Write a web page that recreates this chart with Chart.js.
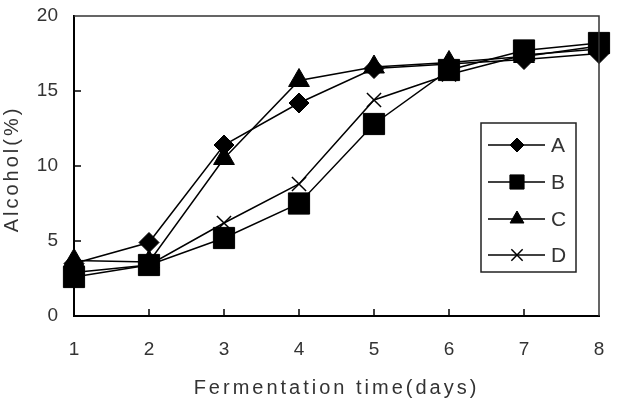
<!DOCTYPE html>
<html>
<head>
<meta charset="utf-8">
<script src="https://cdn.jsdelivr.net/npm/chart.js@4/dist/chart.umd.min.js"></script>
<style>
  html, body { margin: 0; padding: 0; background: #fff; }
  #wrap { width: 617px; height: 408px; position: relative; }
</style>
</head>
<body>
<div id="wrap"><canvas id="c" width="617" height="408"></canvas></div>
<script>
// ---- data ----
const days = ['1', '2', '3', '4', '5', '6', '7', '8'];
const seriesNames = ['A', 'B', 'C', 'D'];
const seriesA = [3.5, 4.9, 11.4, 14.2, 16.5, 16.8, 17.1, 17.5];
const seriesB = [2.6, 3.4, 5.2, 7.5, 12.8, 16.4, 17.7, 18.2];
const seriesC = [3.7, 3.6, 10.5, 15.7, 16.6, 16.9, 17.3, 18.0];
const seriesD = [2.9, 3.4, 6.2, 8.8, 14.4, 16.1, 17.4, 17.8];
const yTicks = [0, 5, 10, 15, 20];
const xTitle = 'Fermentation time(days)';
const yTitle = 'Alcohol(%)';

const FONT = "'Liberation Sans Narrow', 'Liberation Sans', Arial, sans-serif";
const TEXT = '#333';

const styles = [
  { pointStyle: 'rectRot', pointRadius: 10, legendRadius: 7 },
  { pointStyle: 'rect', pointRadius: 15, legendRadius: 10 },
  { pointStyle: 'triangle', pointRadius: 12, legendRadius: 8 },
  { pointStyle: 'crossRot', pointRadius: 10, legendRadius: 8 }
];
const values = [seriesA, seriesB, seriesC, seriesD];

const datasets = seriesNames.map((name, i) => ({
  label: name,
  data: values[i],
  borderColor: '#000',
  backgroundColor: '#000',
  borderWidth: 1.5,
  pointStyle: styles[i].pointStyle,
  pointRadius: styles[i].pointRadius,
  pointHoverRadius: styles[i].pointRadius,
  pointBackgroundColor: '#000',
  pointBorderColor: '#000',
  pointBorderWidth: styles[i].pointStyle === 'crossRot' ? 1.5 : 1,
  tension: 0,
  order: 4 - i
}));

function drawMarker(ctx, style, r, x, y) {
  ctx.save();
  ctx.fillStyle = '#000';
  ctx.strokeStyle = '#000';
  ctx.lineWidth = style === 'crossRot' ? 1.5 : 1;
  if (Chart.helpers && Chart.helpers.drawPoint) {
    Chart.helpers.drawPoint(ctx, { pointStyle: style, radius: r, rotation: 0, borderWidth: ctx.lineWidth }, x, y);
  }
  ctx.restore();
}

const framePlugin = {
  id: 'frame',
  afterLayout(chart) {
    ['x', 'y'].forEach(id => {
      const s = chart.scales[id];
      if (s && !s._lsWrapped) {
        const orig = s.drawTitle;
        s.drawTitle = function () {
          const ctx = this.ctx;
          ctx.save();
          ctx.letterSpacing = '3px';
          if (id === 'y') ctx.translate(0, 3);
          orig.apply(this, arguments);
          ctx.restore();
        };
        s._lsWrapped = true;
      }
    });
  },
  afterDatasetsDraw(chart) {
    const { ctx, chartArea: a, scales: { x, y } } = chart;
    ctx.save();
    ctx.strokeStyle = '#333';
    ctx.lineWidth = 1.5;
    ctx.beginPath();
    ctx.moveTo(a.left, a.top);
    ctx.lineTo(a.right, a.top);
    ctx.lineTo(a.right, a.bottom);
    ctx.stroke();
    ctx.strokeStyle = '#000';
    ctx.lineWidth = 1.5;
    ctx.beginPath();
    for (let i = 1; i < x.ticks.length - 1; i++) {
      const px = Math.round(x.getPixelForTick(i));
      ctx.moveTo(px, a.bottom);
      ctx.lineTo(px, a.bottom - 7);
    }
    for (let i = 1; i < y.ticks.length - 1; i++) {
      const py = Math.round(y.getPixelForTick(i));
      ctx.moveTo(a.left, py);
      ctx.lineTo(a.left + 7, py);
    }
    ctx.stroke();
    ctx.restore();
  },
  afterDraw(chart) {
    const { ctx, chartArea: a } = chart;
    const bx = a.right - 118, by = a.top + 107, bw = 95, bh = 149;
    ctx.save();
    ctx.fillStyle = '#fff';
    ctx.fillRect(bx, by, bw, bh);
    ctx.strokeStyle = '#222';
    ctx.lineWidth = 1.5;
    ctx.strokeRect(bx, by, bw, bh);
    const rows = [by + 22, by + 59, by + 96, by + 132];
    ctx.font = '21px ' + FONT;
    ctx.textBaseline = 'middle';
    ctx.textAlign = 'left';
    seriesNames.forEach((name, i) => {
      const ly = rows[i];
      ctx.strokeStyle = '#000';
      ctx.lineWidth = 1.5;
      ctx.beginPath();
      ctx.moveTo(bx + 7, ly);
      ctx.lineTo(bx + 64, ly);
      ctx.stroke();
      drawMarker(ctx, styles[i].pointStyle, styles[i].legendRadius, bx + 36, ly);
      ctx.fillStyle = TEXT;
      ctx.fillText(name, bx + 70, ly + 1);
    });
    ctx.restore();
  }
};

new Chart(document.getElementById('c'), {
  type: 'line',
  data: { labels: days, datasets },
  plugins: [framePlugin],
  options: {
    responsive: false,
    animation: false,
    events: [],
    layout: { padding: { top: 13, right: 18, left: 0, bottom: 0 } },
    plugins: { legend: { display: false }, tooltip: { enabled: false } },
    scales: {
      x: {
        type: 'category',
        offset: false,
        grid: { display: false, drawTicks: false },
        border: { display: true, color: '#000', width: 2 },
        ticks: { color: TEXT, font: { family: FONT, size: 19 }, padding: 22, maxRotation: 0 },
        title: { display: true, text: xTitle, color: TEXT, font: { family: FONT, size: 20 }, padding: { top: 0, bottom: 8 } },
        afterFit(s) { s.height = 92; s.paddingLeft = 0; s.paddingRight = 0; }
      },
      y: {
        min: 0, max: 20,
        afterBuildTicks(s) { s.ticks = yTicks.map(v => ({ value: v })); },
        grid: { display: false, drawTicks: false },
        border: { display: true, color: '#000', width: 2 },
        ticks: { color: TEXT, font: { family: FONT, size: 19 }, padding: 16 },
        title: { display: true, text: yTitle, color: TEXT, font: { family: FONT, size: 20 }, padding: { top: 0, bottom: 0 } },
        afterFit(s) { s.width = 74; s.paddingTop = 0; s.paddingBottom = 0; }
      }
    }
  }
});
</script>
</body>
</html>
